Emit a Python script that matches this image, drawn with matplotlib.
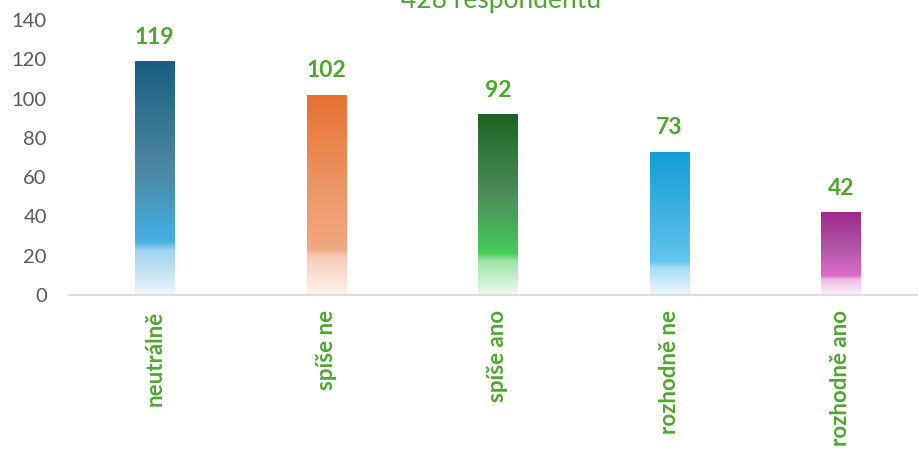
import numpy as np
import matplotlib.pyplot as plt
from matplotlib.colors import LinearSegmentedColormap

# data
categories = ['neutrálně', 'spíše ne', 'spíše ano', 'rozhodně ne', 'rozhodně ano']
values = [119, 102, 92, 73, 42]
title = '428 respondentů'

# gradient stops per bar (bottom -> top)
gradients = [
    ['#EEF6FB', '#9FD2EE', '#44B0E2', '#4C86A0', '#1A5E80'],
    ['#FDF3EE', '#F6CBB4', '#F1A982', '#EC9564', '#E87032'],
    ['#EEF9EF', '#9BE3A6', '#45CC5A', '#4F8C5A', '#1B6624'],
    ['#EEF7FC', '#A6DDF5', '#62C6EF', '#40B2E0', '#129ED6'],
    ['#FBF0F8', '#EEBAE4', '#DC6ECC', '#B257A8', '#9E288E'],
]
stops = [0.0, 0.19, 0.23, 0.55, 1.0]

GREEN = '#4EA72E'
GREY = '#595959'

plt.rcParams['font.family'] = ['Lato', 'DejaVu Sans']

fig = plt.figure(figsize=(9.18, 4.51), dpi=100)
ax = fig.add_axes([69 / 918, 1 - 295 / 451, 857.5 / 918, 275 / 451])

x = np.arange(len(categories))
bars = ax.bar(x, values, width=0.23, color='none', zorder=2)

for bar, cols, v in zip(bars, gradients, values):
    cmap = LinearSegmentedColormap.from_list('g', list(zip(stops, cols)))
    grad = np.linspace(0, 1, 256).reshape(-1, 1)
    x0 = bar.get_x()
    im = ax.imshow(grad, cmap=cmap, aspect='auto', origin='lower',
                   extent=[x0, x0 + bar.get_width(), 0, v], zorder=1)
    im.set_clip_path(bar)
    ax.text(bar.get_x() + bar.get_width() / 2, v + 9, str(v), ha='center',
            va='baseline', color=GREEN, fontsize=16.5, fontweight='bold')

ax.set_xlim(-0.5, len(categories) - 0.5)
ax.set_ylim(0, 140)

ax.set_yticks(range(0, 141, 20))
ax.tick_params(axis='y', length=0, labelsize=14.5, labelcolor=GREY, pad=16)
ax.set_xticks(x)
ax.set_xticklabels(categories, rotation=90, color=GREEN, fontsize=16,
                   fontweight='bold')
ax.tick_params(axis='x', length=0, pad=11)

for s in ['top', 'right', 'left']:
    ax.spines[s].set_visible(False)
ax.spines['bottom'].set_color('#D9D9D9')
ax.spines['bottom'].set_linewidth(1.2)

# title sits partly above the top edge, as in the original crop
fig.text(501 / 918, 1 - 8 / 451, title, ha='center', va='baseline',
         color=GREEN, fontsize=19)

fig.savefig('out.png', dpi=100)
